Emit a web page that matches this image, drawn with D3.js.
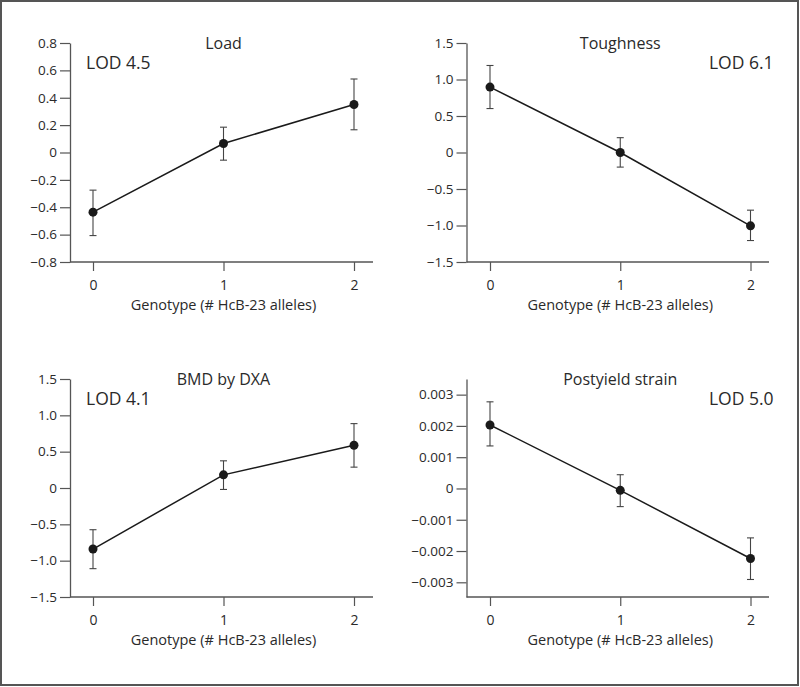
<!DOCTYPE html>
<html>
<head>
<meta charset="utf-8">
<script src="https://cdn.jsdelivr.net/npm/d3@7"></script>
<style>
html,body{margin:0;padding:0;background:#fff;}
svg{display:block;}
text{font-family:"Open Sans","Noto Sans",sans-serif;fill:#2a2a2a;}
</style>
</head>
<body>
<script>
// ---- data ----
const genotypes = [0, 1, 2];
const xLabel = "Genotype (# HcB-23 alleles)";

const titles = ["Load", "Toughness", "BMD by DXA", "Postyield strain"];
const lods = ["LOD 4.5", "LOD 6.1", "LOD 4.1", "LOD 5.0"];

const loadMean = [-0.436, 0.066, 0.351];
const loadLo   = [-0.607, -0.056, 0.166];
const loadHi   = [-0.275, 0.185, 0.537];
const loadTicks = [0.8, 0.6, 0.4, 0.2, 0, -0.2, -0.4, -0.6, -0.8];

const toughMean = [0.896, 0.0, -1.005];
const toughLo   = [0.602, -0.2, -1.206];
const toughHi   = [1.192, 0.203, -0.79];
const toughTicks = [1.5, 1.0, 0.5, 0, -0.5, -1.0, -1.5];

const bmdMean = [-0.84, 0.181, 0.589];
const bmdLo   = [-1.11, -0.02, 0.287];
const bmdHi   = [-0.574, 0.374, 0.886];
const bmdTicks = [1.5, 1.0, 0.5, 0, -0.5, -1.0, -1.5];

const pysMean = [0.00203, -0.00006, -0.00224];
const pysLo   = [0.00136, -0.00058, -0.00291];
const pysHi   = [0.00277, 0.00044, -0.00158];
const pysTicks = [0.003, 0.002, 0.001, 0, -0.001, -0.002, -0.003];

const f1 = d => d === 0 ? "0" : d3.format(".1f")(d);
const f3 = d => d === 0 ? "0" : d3.format(".3f")(d);

const panels = [
  {title: titles[0], lod: lods[0], lodRight: false, mean: loadMean, lo: loadLo, hi: loadHi, ticks: loadTicks, domain: [-0.8, 0.8], fmt: f1},
  {title: titles[1], lod: lods[1], lodRight: true, mean: toughMean, lo: toughLo, hi: toughHi, ticks: toughTicks, domain: [-1.5, 1.5], fmt: f1},
  {title: titles[2], lod: lods[2], lodRight: false, mean: bmdMean, lo: bmdLo, hi: bmdHi, ticks: bmdTicks, domain: [-1.5, 1.5], fmt: f1},
  {title: titles[3], lod: lods[3], lodRight: true, mean: pysMean, lo: pysLo, hi: pysHi, ticks: pysTicks, domain: [-0.00347, 0.0035], fmt: f3}
];

// ---- layout ----
const W = 800, H = 687;
const svg = d3.select("body").append("svg").attr("width", W).attr("height", H);

svg.append("rect").attr("x", 1).attr("y", 1).attr("width", W - 3).attr("height", H - 3)
  .attr("fill", "none").attr("stroke", "#555").attr("stroke-width", 2);

const layout = [
  {ax: 70, top: 43, bottom: 262, x0: 93, x2: 354, xEnd: 373},
  {ax: 466.5, top: 43, bottom: 262, x0: 490, x2: 750.5, xEnd: 769},
  {ax: 70, top: 379, bottom: 597, x0: 93, x2: 354, xEnd: 373},
  {ax: 466.5, top: 379, bottom: 597, x0: 490, x2: 750.5, xEnd: 769}
];

panels.forEach((p, i) => {
  const L = layout[i];
  const x = d3.scaleLinear().domain([0, 2]).range([L.x0, L.x2]);
  const y = d3.scaleLinear().domain(p.domain).range([L.bottom, L.top]);
  const g = svg.append("g");

  // y axis
  const yAxis = d3.axisLeft(y).tickValues(p.ticks).tickFormat(p.fmt).tickSize(10).tickPadding(3).tickSizeOuter(0);
  const ya = g.append("g").attr("transform", `translate(${L.ax},0)`).call(yAxis);
  ya.attr("font-size", null).attr("font-family", null);
  ya.select(".domain").attr("stroke", "#555").attr("stroke-width", 1.3);
  ya.selectAll(".tick line").attr("stroke", "#555").attr("stroke-width", 1.2);
  ya.selectAll(".tick text").style("font-size", "13.5px").attr("fill", "#2a2a2a");

  // x axis
  g.append("line").attr("x1", L.ax).attr("x2", L.xEnd).attr("y1", L.bottom).attr("y2", L.bottom)
    .attr("stroke", "#555").attr("stroke-width", 1.3);
  const xAxis = d3.axisBottom(x).tickValues(genotypes).tickFormat(d3.format("d")).tickSize(9).tickPadding(9).tickSizeOuter(0);
  const xa = g.append("g").attr("transform", `translate(0,${L.bottom})`).call(xAxis);
  xa.attr("font-size", null).attr("font-family", null);
  xa.select(".domain").remove();
  xa.selectAll(".tick line").attr("stroke", "#555").attr("stroke-width", 1.2);
  xa.selectAll(".tick text").style("font-size", "14px").attr("fill", "#2a2a2a");

  g.append("text").attr("x", x(1)).attr("y", L.bottom + 48).attr("text-anchor", "middle")
    .style("font-size", "14.5px").text(xLabel);

  // title
  g.append("text").attr("x", x(1)).attr("y", L.top + 6).attr("text-anchor", "middle")
    .style("font-size", "16px").text(p.title);

  // LOD
  g.append("text")
    .attr("x", p.lodRight ? L.x2 + 23 : L.ax + 16)
    .attr("y", L.top + 26)
    .attr("text-anchor", p.lodRight ? "end" : "start")
    .style("font-size", "17.5px").attr("fill", "#222").text(p.lod);

  // error bars
  const eb = g.append("g").attr("stroke", "#444").attr("stroke-width", 1.1);
  genotypes.forEach((gt, j) => {
    eb.append("line").attr("x1", x(gt)).attr("x2", x(gt)).attr("y1", y(p.lo[j])).attr("y2", y(p.hi[j]));
    eb.append("line").attr("x1", x(gt) - 3.5).attr("x2", x(gt) + 3.5).attr("y1", y(p.lo[j])).attr("y2", y(p.lo[j]));
    eb.append("line").attr("x1", x(gt) - 3.5).attr("x2", x(gt) + 3.5).attr("y1", y(p.hi[j])).attr("y2", y(p.hi[j]));
  });

  // line
  const line = d3.line().x((d, j) => x(genotypes[j])).y(d => y(d));
  g.append("path").datum(p.mean).attr("d", line).attr("fill", "none").attr("stroke", "#1a1a1a").attr("stroke-width", 1.5);

  g.selectAll("circle.pt").data(p.mean).enter().append("circle")
    .attr("cx", (d, j) => x(genotypes[j])).attr("cy", d => y(d)).attr("r", 4.5).attr("fill", "#1a1a1a");
});
</script>
</body>
</html>
